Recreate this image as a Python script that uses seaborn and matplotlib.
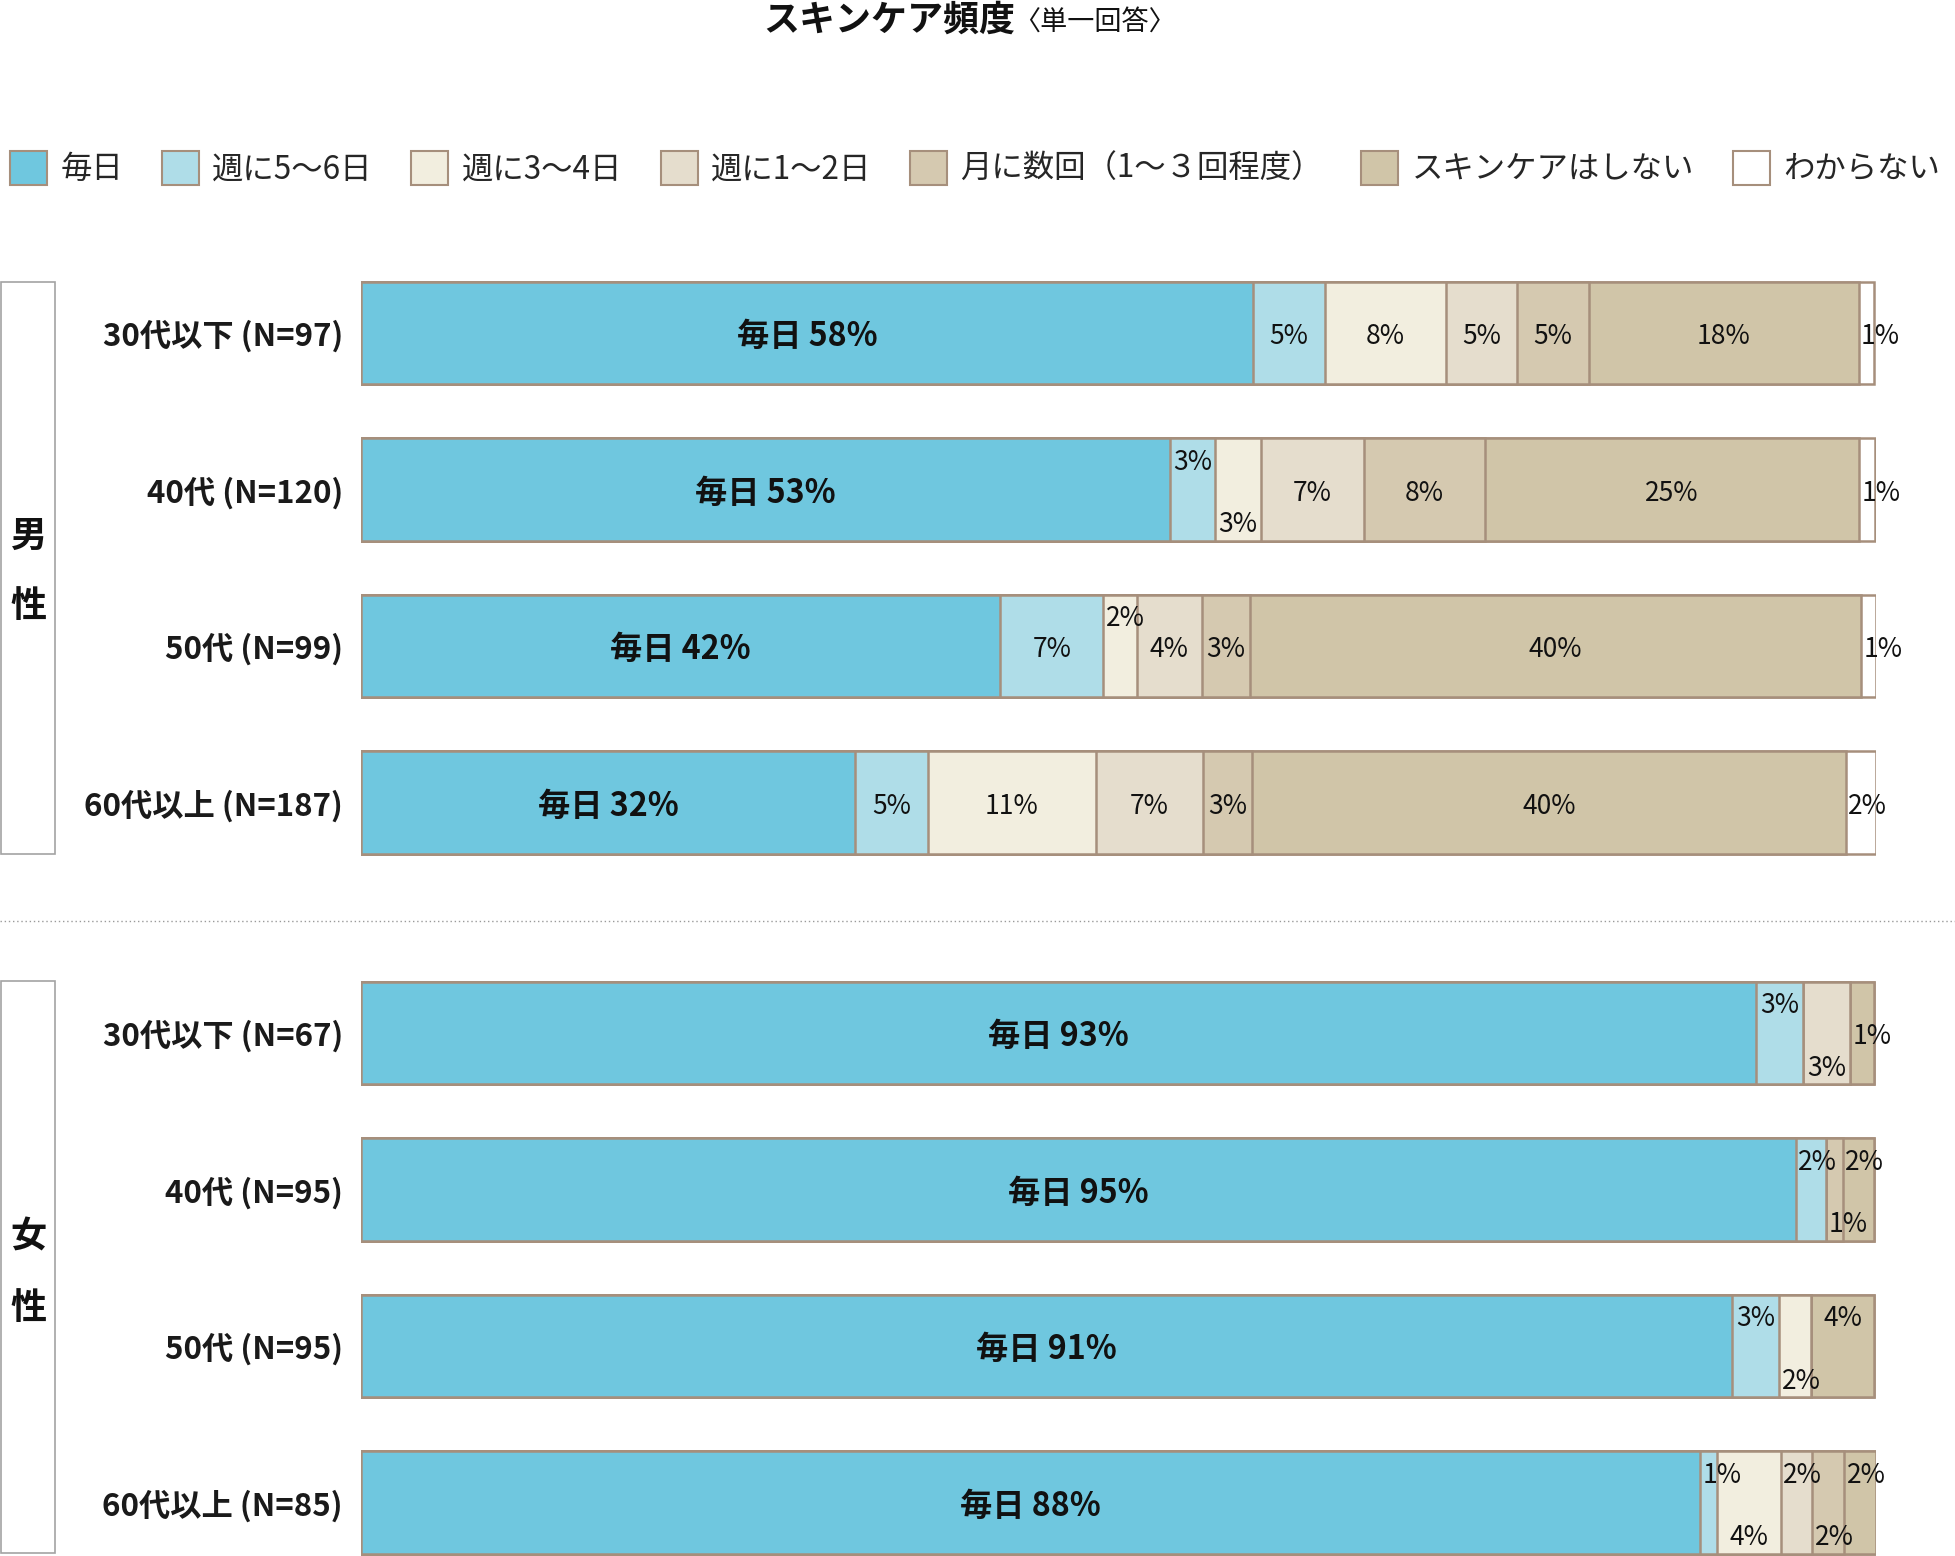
import matplotlib.pyplot as plt
import pandas as pd
import seaborn as sns
from matplotlib.lines import Line2D
from matplotlib.patches import Patch, Rectangle


W, H = 1955, 1556

CATEGORIES = [
    "毎日",
    "週に5〜6日",
    "週に3〜4日",
    "週に1〜2日",
    "月に数回（1〜３回程度）",
    "スキンケアはしない",
    "わからない",
]
COLORS = ["#6fc7df", "#afdde8", "#f2eedf", "#e5ddcd", "#d5c9b0", "#d0c5a8", "#ffffff"]
EDGE = "#a68f7c"

MALE_GROUPS = ["30代以下 (N=97)", "40代 (N=120)", "50代 (N=99)", "60代以上 (N=187)"]
FEMALE_GROUPS = ["30代以下 (N=67)", "40代 (N=95)", "50代 (N=95)", "60代以上 (N=85)"]

# segment lengths as drawn in the picture (% of bar)
MALE_SHARES = [
    [58.9, 4.7, 8.0, 4.7, 4.75, 17.8, 1.05],
    [53.4, 3.0, 3.0, 6.8, 8.0, 24.7, 1.05],
    [42.2, 6.8, 2.2, 4.3, 3.2, 40.3, 1.0],
    [32.6, 4.8, 11.1, 7.1, 3.2, 39.2, 2.0],
]
FEMALE_SHARES = [
    [92.1, 3.1, 0.0, 3.1, 0.0, 1.6, 0.0],
    [94.7, 2.0, 0.0, 0.0, 1.1, 2.1, 0.0],
    [90.5, 3.1, 2.1, 0.0, 0.0, 4.2, 0.0],
    [88.4, 1.1, 4.2, 2.1, 2.1, 2.1, 0.0],
]

# percentages printed on the bars (None = no label)
MALE_LABELS = [
    [58, 5, 8, 5, 5, 18, 1],
    [53, 3, 3, 7, 8, 25, 1],
    [42, 7, 2, 4, 3, 40, 1],
    [32, 5, 11, 7, 3, 40, 2],
]
FEMALE_LABELS = [
    [93, 3, None, 3, None, 1, None],
    [95, 2, None, None, 1, 2, None],
    [91, 3, 2, None, None, 4, None],
    [88, 1, 4, 2, 2, 2, None],
]

# where the label sits inside the bar: c = middle, t = top, b = bottom
MALE_SPOTS = [
    "ccccccc",
    "ctbcccc",
    "cctcccc",
    "ccccccc",
]
FEMALE_SPOTS = [
    "ctcbccc",
    "ctcbbtc",
    "ctbcctc",
    "ctbtbtc",
]
SPOT_OFFSET = {"c": 0.025, "t": -0.175, "b": 0.225}
BAR_W = 0.655


def to_long(groups, shares):
    rows = []
    for group, values in zip(groups, shares):
        cum = 0.0
        for cat, value in zip(CATEGORIES, values):
            cum += value
            rows.append({"group": group, "cat": cat, "share": value, "cum": cum})
    return pd.DataFrame(rows)


def draw_block(ax, groups, shares, labels, spots):
    data = to_long(groups, shares)

    # stacked bars: draw cumulative totals from the right-most segment backwards
    for cat, color in reversed(list(zip(CATEGORIES, COLORS))):
        sns.barplot(
            data=data[data["cat"] == cat],
            x="cum",
            y="group",
            order=groups,
            orient="h",
            color=color,
            saturation=1,
            edgecolor=EDGE,
            linewidth=1.8,
            width=BAR_W,
            errorbar=None,
            ax=ax,
        )

    for i, group in enumerate(groups):
        row = data[data["group"] == group].reset_index(drop=True)
        for k in range(len(CATEGORIES)):
            lab = labels[i][k]
            if lab is None:
                continue
            share = row.loc[k, "share"]
            left = row.loc[k, "cum"] - share
            y = i + SPOT_OFFSET[spots[i][k]]
            if k == 0:
                ax.text(left + share / 2, y, f"毎日 {lab}%", ha="center", va="center",
                        fontsize=23.2, fontweight="bold", color="#111111")
            else:
                ax.text(left + max(share / 2, 1.45), y, f"{lab}%", ha="center", va="center",
                        fontsize=19, color="#111111")

    ax.set_xlim(0, 100)
    ax.set_ylim(3.5, -0.5)
    ax.set_xlabel("")
    ax.set_ylabel("")
    ax.set_xticks([])
    ax.tick_params(axis="y", length=0, pad=13, labelsize=22.5)
    for t in ax.get_yticklabels():
        t.set_fontweight("bold")
        t.set_color("#1a1a1a")
    for spine in ax.spines.values():
        spine.set_visible(False)
    ax.grid(False)
    ax.set_facecolor("none")


sns.set_theme(style="white")
plt.rcParams["font.family"] = ["Noto Sans CJK JP", "DejaVu Sans"]

fig = plt.figure(figsize=(W / 100, H / 100), dpi=100, facecolor="white")

x0, x1 = 361, 1876
pitch = 156.5
male_top = 333 - pitch / 2
female_top = 1033 - pitch / 2
ax_m = fig.add_axes([x0 / W, 1 - (male_top + 4 * pitch) / H, (x1 - x0) / W, 4 * pitch / H])
ax_f = fig.add_axes([x0 / W, 1 - (female_top + 4 * pitch) / H, (x1 - x0) / W, 4 * pitch / H])

draw_block(ax_m, MALE_GROUPS, MALE_SHARES, MALE_LABELS, MALE_SPOTS)
draw_block(ax_f, FEMALE_GROUPS, FEMALE_SHARES, FEMALE_LABELS, FEMALE_SPOTS)

# gender boxes on the left
for top, bottom, chars, ys in [(282, 854, ["男", "性"], [536, 607]),
                               (981, 1553, ["女", "性"], [1237, 1308])]:
    fig.add_artist(Rectangle((1 / W, 1 - bottom / H), 54 / W, (bottom - top) / H,
                             transform=fig.transFigure, fill=False, ec="#a3a3a3", lw=1.2))
    for ch, yc in zip(chars, ys):
        fig.text(28 / W, 1 - yc / H, ch, ha="center", va="center",
                 fontsize=26, fontweight="bold", color="#111111")

# dotted separator between the two blocks
fig.add_artist(Line2D([0, 1], [1 - 921 / H] * 2, transform=fig.transFigure,
                      color="#9a9a9a", lw=1.0, ls=(0, (1, 2))))

# title
fig.text(763 / W, 1 - 20 / H, "スキンケア頻度", ha="left", va="center",
         fontsize=25.9, fontweight="bold", color="#111111")
fig.text(1013 / W, 1 - 22 / H, "〈単一回答〉", ha="left", va="center",
         fontsize=19.5, color="#111111")

# legend
handles = [Patch(facecolor=c, edgecolor=EDGE, linewidth=1.5) for c in COLORS]
fig.legend(
    handles,
    CATEGORIES,
    loc="center left",
    bbox_to_anchor=(10 / W, 1 - 168 / H),
    ncol=7,
    frameon=False,
    handlelength=1.18,
    handleheight=1.28,
    handletextpad=0.42,
    columnspacing=1.235,
    borderpad=0,
    borderaxespad=0,
    prop={"size": 22.6},
)

fig.savefig("out.png", dpi=100, facecolor="white")
